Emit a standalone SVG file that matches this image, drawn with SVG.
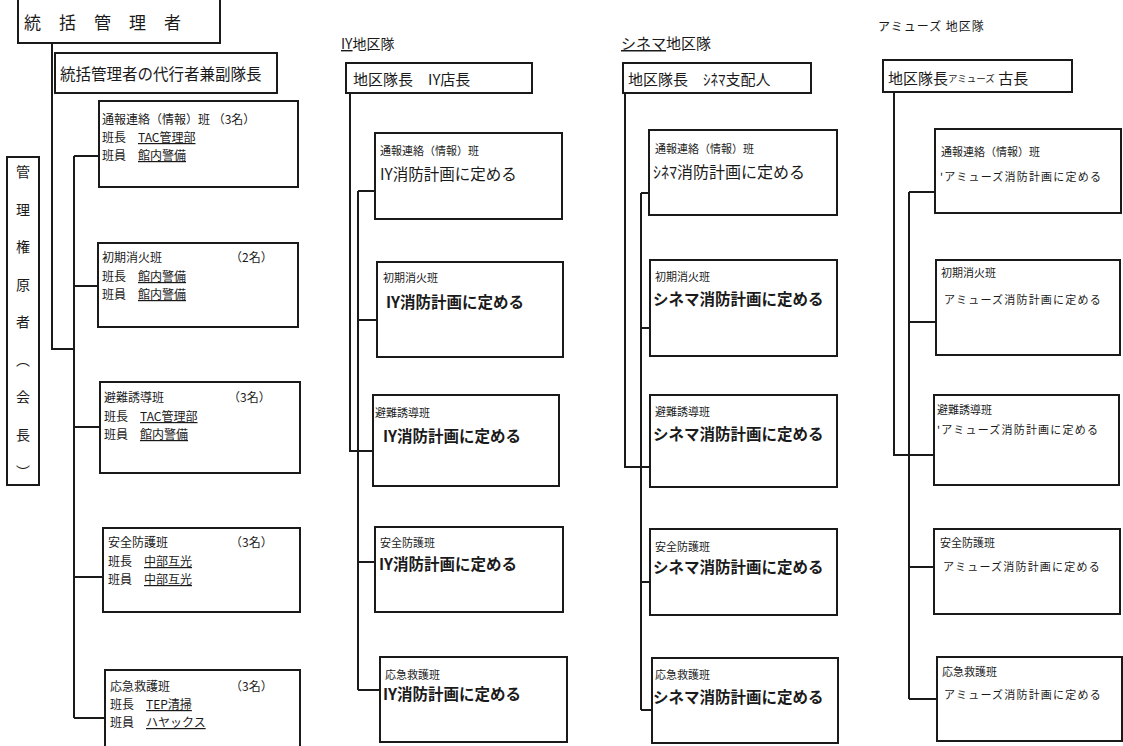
<svg xmlns="http://www.w3.org/2000/svg" width="1123" height="746" viewBox="0 0 1123 746">
<style>
text{font-family:"Noto Sans CJK JP","Noto Sans",sans-serif;fill:#1a1a1a}
.box{fill:none;stroke:#1a1a1a;stroke-width:2}
.ln{fill:none;stroke:#1a1a1a;stroke-width:2}
.s{font-size:12px}
.xs{font-size:11px}
.big{font-size:15.5px}
.bb{font-size:15.5px;font-weight:bold}
.am{font-size:11px;letter-spacing:1.2px}
.hd{font-size:15px}
.u{text-decoration:underline}
</style>
<rect width="1123" height="746" fill="#fff"/>
<g id="connectors">
<polyline class="ln" points="52,43 52,349 74,349"/>
<line class="ln" x1="74" y1="156" x2="74" y2="718"/>
<line class="ln" x1="74" y1="156" x2="99" y2="156"/>
<line class="ln" x1="74" y1="286" x2="99" y2="286"/>
<line class="ln" x1="74" y1="427" x2="100" y2="427"/>
<line class="ln" x1="74" y1="577" x2="103" y2="577"/>
<line class="ln" x1="74" y1="718" x2="105" y2="718"/>
<polyline class="ln" points="350,93 350,451 373,451"/>
<line class="ln" x1="358" y1="191" x2="358" y2="690"/>
<line class="ln" x1="358" y1="191" x2="375" y2="191"/>
<line class="ln" x1="358" y1="320" x2="377" y2="320"/>
<line class="ln" x1="358" y1="562" x2="375" y2="562"/>
<line class="ln" x1="358" y1="690" x2="380" y2="690"/>
<polyline class="ln" points="625,93 625,467 650,467"/>
<line class="ln" x1="641" y1="193" x2="641" y2="710"/>
<line class="ln" x1="641" y1="193" x2="649" y2="193"/>
<line class="ln" x1="641" y1="328" x2="650" y2="328"/>
<line class="ln" x1="641" y1="582" x2="650" y2="582"/>
<line class="ln" x1="641" y1="710" x2="652" y2="710"/>
<polyline class="ln" points="894,92 894,455 934,455"/>
<line class="ln" x1="909" y1="192" x2="909" y2="699"/>
<line class="ln" x1="909" y1="192" x2="935" y2="192"/>
<line class="ln" x1="909" y1="322" x2="936" y2="322"/>
<line class="ln" x1="909" y1="567" x2="934" y2="567"/>
<line class="ln" x1="909" y1="699" x2="937" y2="699"/>
</g>
<g id="top">
<rect class="box" x="18" y="-3" width="202" height="46" stroke-width="2.5"/>
<text x="24" y="29" font-size="17" letter-spacing="18">統括管理者</text>
</g>
<g id="deputy">
<rect class="box" x="55" y="53" width="222" height="40"/>
<text x="60" y="80" font-size="15.5">統括管理者の代行者兼副隊長</text>
</g>
<g id="owner">
<rect class="box" x="7" y="157" width="32" height="328"/>
<text x="23" y="165" font-size="14" writing-mode="vertical-rl" letter-spacing="23.5">管理権原者（会長）</text>
</g>
<g id="l1">
<rect class="box" x="99" y="101" width="199" height="86"/>
<text class="s" x="102" y="124">通報連絡（情報）班 （3名）</text>
<text class="s" x="102" y="142">班長　<tspan class="u">TAC管理部</tspan></text>
<text class="s" x="102" y="160">班員　<tspan class="u">館内警備</tspan></text>
</g>
<g id="l2">
<rect class="box" x="98" y="243" width="200" height="84"/>
<text class="s" x="102" y="262">初期消火班</text>
<text class="s" x="230" y="262">（2名）</text>
<text class="s" x="102" y="281">班長　<tspan class="u">館内警備</tspan></text>
<text class="s" x="102" y="299">班員　<tspan class="u">館内警備</tspan></text>
</g>
<g id="l3">
<rect class="box" x="100" y="382" width="200" height="91"/>
<text class="s" x="104" y="402">避難誘導班</text>
<text class="s" x="228" y="402">（3名）</text>
<text class="s" x="104" y="421">班長　<tspan class="u">TAC管理部</tspan></text>
<text class="s" x="104" y="439">班員　<tspan class="u">館内警備</tspan></text>
</g>
<g id="l4">
<rect class="box" x="103" y="528" width="197" height="84"/>
<text class="s" x="108" y="547">安全防護班</text>
<text class="s" x="230" y="547">（3名）</text>
<text class="s" x="108" y="566">班長　<tspan class="u">中部互光</tspan></text>
<text class="s" x="108" y="584">班員　<tspan class="u">中部互光</tspan></text>
</g>
<g id="l5">
<rect class="box" x="105" y="670" width="195" height="80"/>
<text class="s" x="110" y="691">応急救護班</text>
<text class="s" x="230" y="691">（3名）</text>
<text class="s" x="110" y="709">班長　<tspan class="u">TEP清掃</tspan></text>
<text class="s" x="110" y="727">班員　<tspan class="u">ハヤックス</tspan></text>
</g>
<g id="iy-title"><text x="341" y="49" font-size="14"><tspan class="u">IY</tspan>地区隊</text></g>
<g id="iy-head">
<rect class="box" x="346" y="63" width="186" height="30"/>
<text x="353" y="85" font-size="15">地区隊長　IY店長</text>
</g>
<g id="iy1">
<rect class="box" x="375" y="133" width="187" height="86"/>
<text class="xs" x="380" y="155">通報連絡（情報）班</text>
<text class="big" x="380" y="180">IY消防計画に定める</text>
</g>
<g id="iy2">
<rect class="box" x="377" y="262" width="186" height="95"/>
<text class="xs" x="383" y="282">初期消火班</text>
<text class="bb" x="386" y="308">IY消防計画に定める</text>
</g>
<g id="iy3">
<rect class="box" x="373" y="395" width="186" height="91"/>
<text class="xs" x="375" y="417">避難誘導班</text>
<text class="bb" x="383" y="442">IY消防計画に定める</text>
</g>
<g id="iy4">
<rect class="box" x="375" y="527" width="188" height="85"/>
<text class="xs" x="380" y="547">安全防護班</text>
<text class="bb" x="379" y="570">IY消防計画に定める</text>
</g>
<g id="iy5">
<rect class="box" x="380" y="657" width="187" height="85"/>
<text class="xs" x="385" y="679">応急救護班</text>
<text class="bb" x="383" y="700">IY消防計画に定める</text>
</g>
<g id="ci-title"><text x="621" y="49" font-size="15"><tspan class="u">シネマ</tspan>地区隊</text></g>
<g id="ci-head">
<rect class="box" x="623" y="63" width="188" height="30"/>
<text x="628" y="85" font-size="15">地区隊長　ｼﾈﾏ支配人</text>
</g>
<g id="ci1">
<rect class="box" x="649" y="130" width="188" height="85"/>
<text class="xs" x="655" y="153">通報連絡（情報）班</text>
<text x="653" y="178" font-size="16">ｼﾈﾏ消防計画に定める</text>
</g>
<g id="ci2">
<rect class="box" x="650" y="260" width="187" height="96"/>
<text class="xs" x="655" y="281">初期消火班</text>
<text class="bb" x="653" y="305">シネマ消防計画に定める</text>
</g>
<g id="ci3">
<rect class="box" x="650" y="395" width="187" height="92"/>
<text class="xs" x="655" y="416">避難誘導班</text>
<text class="bb" x="653" y="440">シネマ消防計画に定める</text>
</g>
<g id="ci4">
<rect class="box" x="650" y="529" width="187" height="86"/>
<text class="xs" x="655" y="551">安全防護班</text>
<text class="bb" x="653" y="573">シネマ消防計画に定める</text>
</g>
<g id="ci5">
<rect class="box" x="652" y="658" width="186" height="85"/>
<text class="xs" x="655" y="679">応急救護班</text>
<text class="bb" x="653" y="703">シネマ消防計画に定める</text>
</g>
<g id="am-title"><text x="878" y="31" font-size="12" letter-spacing="1">アミューズ 地区隊</text></g>
<g id="am-head">
<rect class="box" x="883" y="60" width="189" height="32"/>
<text x="888" y="84" font-size="15">地区隊長<tspan font-size="9.5" dy="-2">アミューズ</tspan><tspan dy="2"> 古長</tspan></text>
</g>
<g id="am1">
<rect class="box" x="935" y="129" width="186" height="84"/>
<text class="xs" x="941" y="156">通報連絡（情報）班</text>
<text class="am" x="940" y="181">'アミューズ消防計画に定める</text>
</g>
<g id="am2">
<rect class="box" x="936" y="260" width="184" height="95"/>
<text class="xs" x="941" y="277">初期消火班</text>
<text class="am" x="944" y="304">アミューズ消防計画に定める</text>
</g>
<g id="am3">
<rect class="box" x="934" y="395" width="185" height="90"/>
<text class="xs" x="937" y="414">避難誘導班</text>
<text class="am" x="937" y="434">'アミューズ消防計画に定める</text>
</g>
<g id="am4">
<rect class="box" x="934" y="529" width="186" height="85"/>
<text class="xs" x="940" y="547">安全防護班</text>
<text class="am" x="943" y="571">アミューズ消防計画に定める</text>
</g>
<g id="am5">
<rect class="box" x="937" y="657" width="185" height="84"/>
<text class="xs" x="942" y="676">応急救護班</text>
<text class="am" x="944" y="699">アミューズ消防計画に定める</text>
</g>
</svg>
